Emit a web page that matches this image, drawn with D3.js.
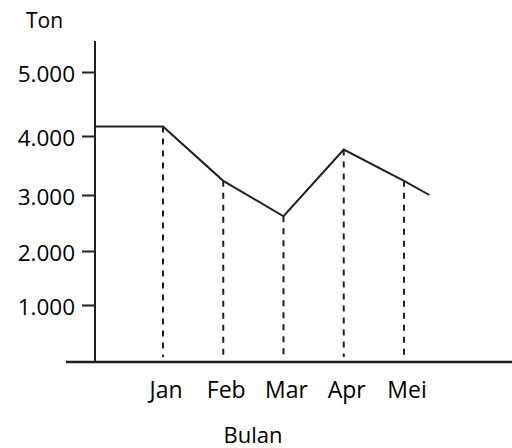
<!DOCTYPE html>
<html>
<head>
<meta charset="utf-8">
<script src="https://cdn.jsdelivr.net/npm/d3@7"></script>
<style>
body { margin: 0; background: #fff; }
text { font-family: "Open Sans", sans-serif; fill: #000; }
</style>
</head>
<body>
<script>
/*Data*/
var months = ["Jan", "Feb", "Mar", "Apr", "Mei"]
var tonValues = [4150, 3240, 2620, 3770, 3240]
var tickValues = [1000, 2000, 3000, 4000, 5000]
var tickLabels = ["1.000", "2.000", "3.000", "4.000", "5.000"]
/*line starts flat at the y axis and runs on a bit past Mei*/
var startValue = 4150
var tailPos = 4.42
var tailValue = 3000

var ink = "#231f20"
var canvas_width = 512, canvas_height = 448

var canvas = d3.select("body").append("svg")
			.attr("width", canvas_width)
			.attr("height", canvas_height)
			.attr("class", "canvas")

/*x is month index, y is ton (axis in the picture is slightly uneven)*/
var xScale = d3.scaleLinear().domain([0, months.length - 1]).range([163, 404])
var yScale = d3.scaleLinear()
				.domain([0, 1000, 2000, 3000, 4000, 5000])
				.range([362, 305, 251, 195, 136, 72])

var axisX = 95
var baseY = yScale(0)

/*dashed drops from each point*/
canvas.selectAll(".drop")
	.data(tonValues)
	.enter()
		.append("line")
		.attr("class", "drop")
		.attr("x1", function(d, i){return xScale(i)})
		.attr("x2", function(d, i){return xScale(i)})
		.attr("y1", function(d){return yScale(d)})
		.attr("y2", baseY - 5)
		.attr("stroke", ink)
		.attr("stroke-width", 2)
		.attr("stroke-dasharray", "6,6")

/*the line*/
var pts = [[axisX, yScale(startValue)]]
tonValues.forEach(function(v, i){ pts.push([xScale(i), yScale(v)]) })
pts.push([xScale(tailPos), yScale(tailValue)])

canvas.append("path")
	.attr("d", d3.line()(pts))
	.attr("fill", "none")
	.attr("stroke", ink)
	.attr("stroke-width", 2)

/*y axis*/
var yAxis = d3.axisLeft(yScale)
			.tickValues(tickValues)
			.tickFormat(function(d, i){return tickLabels[i]})
			.tickSize(13)
			.tickPadding(7)

var yg = canvas.append("g")
	.attr("transform", "translate(" + axisX + ",0)")
	.call(yAxis)

yg.select(".domain").remove()
yg.selectAll("line").attr("stroke", ink).attr("stroke-width", 2)
yg.selectAll("text")
	.attr("font-family", "Open Sans")
	.attr("font-size", 22.5)
	.attr("fill", "#000")
	.attr("dy", "0.44em")

canvas.append("line")
	.attr("x1", axisX).attr("x2", axisX)
	.attr("y1", 41).attr("y2", baseY + 1)
	.attr("stroke", ink)
	.attr("stroke-width", 2)

/*x axis*/
canvas.append("line")
	.attr("x1", 66).attr("x2", canvas_width)
	.attr("y1", baseY).attr("y2", baseY)
	.attr("stroke", ink)
	.attr("stroke-width", 2.5)

canvas.selectAll(".month")
	.data(months)
	.enter()
		.append("text")
		.attr("class", "month")
		.attr("x", function(d, i){return xScale(i) + 3})
		.attr("y", 397.5)
		.attr("text-anchor", "middle")
		.attr("font-size", 23)
		.text(function(d){return d})

/*axis titles*/
canvas.append("text")
	.attr("x", 26)
	.attr("y", 27.5)
	.attr("font-size", 21)
	.text("Ton")

canvas.append("text")
	.attr("x", 253)
	.attr("y", 442.5)
	.attr("text-anchor", "middle")
	.attr("font-size", 22)
	.text("Bulan")
</script>
</body>
</html>
